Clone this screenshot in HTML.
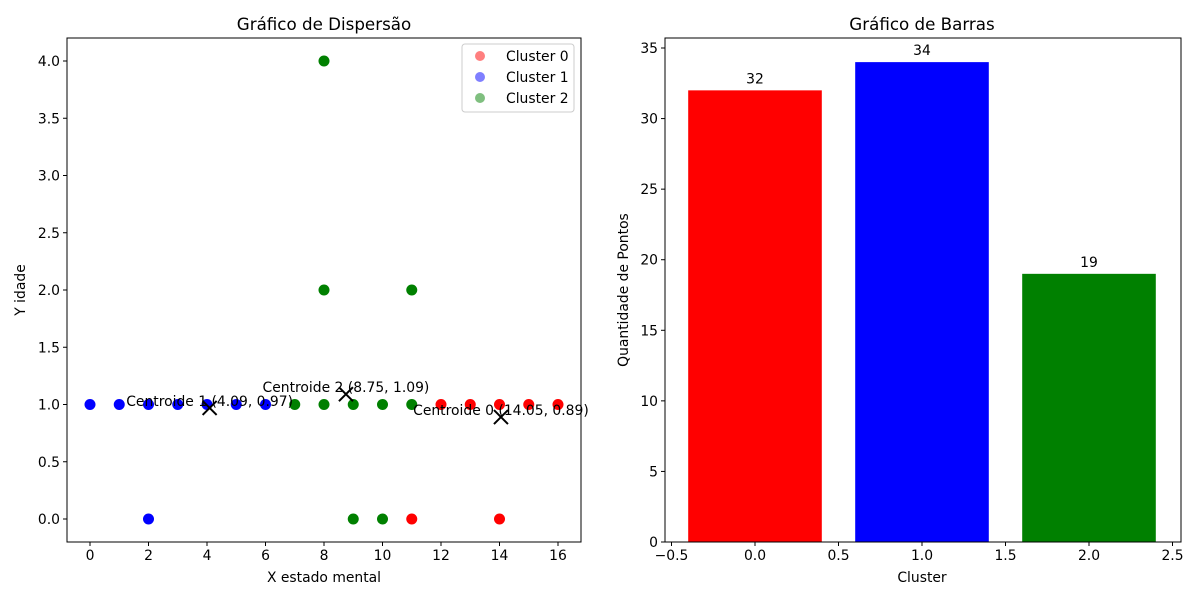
<!DOCTYPE html>
<html><head><meta charset="utf-8"><style>
body{margin:0;background:#fff;}
svg text{font-family:"DejaVu Sans","Liberation Sans",sans-serif;fill:#000;}
</style></head><body>
<svg id="svg" width="1200" height="600" xmlns="http://www.w3.org/2000/svg"></svg>
<script>
// Scatter data
const clusterNames = ["Cluster 0","Cluster 1","Cluster 2"];
const clusterColors = ["red","blue","green"];
const c0x = [11,14,12,13,14,15,16];
const c0y = [0,0,1,1,1,1,1];
const c1x = [0,1,2,3,4,5,6,2];
const c1y = [1,1,1,1,1,1,1,0];
const c2x = [7,8,9,10,11,8,11,8,9,10];
const c2y = [1,1,1,1,1,2,2,4,0,0];
const centX = [14.05,4.09,8.75];
const centY = [0.89,0.97,1.09];
const xTicks = [0,2,4,6,8,10,12,14,16];
const yTicks = [0,0.5,1,1.5,2,2.5,3,3.5,4];
// Bar data
const barCats = [0,1,2];
const barVals = [32,34,19];
const barXTicks = [-0.5,0,0.5,1,1.5,2,2.5];
const barYTicks = [0,5,10,15,20,25,30,35];

const svg=document.getElementById('svg');
const NS="http://www.w3.org/2000/svg";
function mk(t,a,p){const e=document.createElementNS(NS,t);for(const k in a)e.setAttribute(k,a[k]);(p||svg).appendChild(e);return e;}
function txt(s,x,y,a,p){const e=mk('text',Object.assign({x:x,y:y,'font-size':13.9},a||{}),p);e.textContent=s;return e;}

// Left axes
const L={x0:67,x1:581,y0:38,y1:542};
const sx=v=>90+v*29.25, sy=v=>519-v*114.5;
const g1=mk('g',{});


const pts=[[c0x,c0y],[c1x,c1y],[c2x,c2y]];
pts.forEach((p,ci)=>{p[0].forEach((xv,i)=>{
  const c=mk('circle',{cx:sx(xv),cy:sy(p[1][i]),r:5.5,fill:clusterColors[ci]},g1);
  
  
});});
centX.forEach((xv,i)=>{
  const X=sx(xv),Y=sy(centY[i]);
  const m=mk('path',{d:`M${X-7},${Y-7}L${X+7},${Y+7}M${X-7},${Y+7}L${X+7},${Y-7}`,stroke:'#000','stroke-width':2},g1);
  
  
  const t=txt(`Centroide ${i} (${xv.toFixed(2)}, ${centY[i].toFixed(2)})`,X,Y-2,{'text-anchor':'middle'},g1);
  
  
});
mk('rect',{x:L.x0,y:L.y0,width:L.x1-L.x0,height:L.y1-L.y0,fill:'none',stroke:'#000','stroke-width':1},g1);
xTicks.forEach(v=>{mk('line',{x1:sx(v),x2:sx(v),y1:L.y1,y2:L.y1+4,stroke:'#000'},g1);
  const t=txt(String(v),sx(v),L.y1+18,{'text-anchor':'middle'},g1);
  });
yTicks.forEach(v=>{mk('line',{x1:L.x0-4,x2:L.x0,y1:sy(v),y2:sy(v),stroke:'#000'},g1);
  const t=txt(v.toFixed(1),L.x0-7,sy(v)+5,{'text-anchor':'end'},g1);
  });
let t=txt('Gráfico de Dispersão',324,30,{'text-anchor':'middle','font-size':16.7},g1);

t=txt('X estado mental',324,582,{'text-anchor':'middle'},g1);

t=txt('Y idade',25,290,{'text-anchor':'middle',transform:'rotate(-90 25 290)'},g1);

// legend
const lg=mk('g',{},g1);

mk('rect',{x:462,y:44,width:112,height:68,rx:3,fill:'#fff',stroke:'#ccc'},lg);
clusterNames.forEach((n,i)=>{
  const y=56+i*21;
  mk('circle',{cx:480,cy:y,r:5,fill:clusterColors[i],'fill-opacity':0.5},lg);
  const e=txt(n,506,y+5,{},lg);
  
});

// Right axes
const R={x0:665,x1:1181,y0:38,y1:542};
const bx=v=>755+v*167, by=v=>542-v*14.114;
const g2=mk('g',{});


barCats.forEach((c,i)=>{
  const r=mk('rect',{x:bx(c-0.4),y:by(barVals[i]),width:bx(0.8)-bx(0),height:by(0)-by(barVals[i]),fill:clusterColors[i]},g2);
  
  const e=txt(String(barVals[i]),bx(c),by(barVals[i])-7,{'text-anchor':'middle'},g2);
  
});
mk('rect',{x:R.x0,y:R.y0,width:R.x1-R.x0,height:R.y1-R.y0,fill:'none',stroke:'#000'},g2);
barXTicks.forEach(v=>{mk('line',{x1:bx(v),x2:bx(v),y1:R.y1,y2:R.y1+4,stroke:'#000'},g2);
  const e=txt(v.toFixed(1).replace('-','−'),bx(v),R.y1+18,{'text-anchor':'middle'},g2);
  });
barYTicks.forEach(v=>{mk('line',{x1:R.x0-4,x2:R.x0,y1:by(v),y2:by(v),stroke:'#000'},g2);
  const e=txt(String(v),R.x0-7,by(v)+5,{'text-anchor':'end'},g2);
  });
t=txt('Gráfico de Barras',922,30,{'text-anchor':'middle','font-size':16.7},g2);

t=txt('Cluster',922,582,{'text-anchor':'middle'},g2);

t=txt('Quantidade de Pontos',628,290,{'text-anchor':'middle',transform:'rotate(-90 628 290)'},g2);

</script>
</body></html>
